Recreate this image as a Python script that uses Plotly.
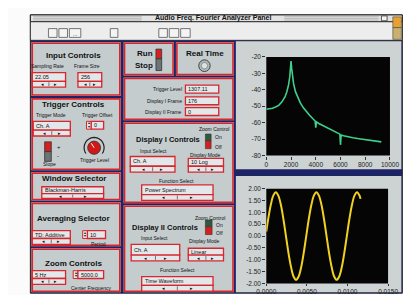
import math
import plotly.graph_objects as go

W, H = 411, 295

# ---------------- data ----------------
spec_freq = [0, 250, 500, 750, 1000, 1250, 1500, 1650, 1800, 1900, 1950, 2000, 2050, 2100,
             2200, 2350, 2500, 2750, 3000, 3250, 3500, 3750, 3950, 4000, 4050, 4250, 4500,
             5000, 5500, 5950, 6000, 6050, 6250, 6500, 7000, 7500, 8000, 8500, 9000, 9300]
spec_db = [-51.8, -51.6, -51.2, -50.5, -49.5, -47.5, -44.5, -41.5, -37.0, -32.0, -28.0, -22.5,
           -27.0, -31.0, -36.0, -41.0, -44.0, -48.0, -51.0, -53.5, -55.5, -57.5, -59.0, -63.0,
           -59.5, -60.5, -61.5, -63.5, -65.5, -67.0, -73.5, -67.5, -68.0, -68.5, -69.2, -69.8,
           -70.3, -70.8, -71.3, -71.7]

wave_t = [0.0, 0.00023, 0.00055, 0.00086, 0.00117, 0.00148, 0.00180, 0.00211, 0.00242,
          0.00273, 0.00305, 0.00336, 0.00367, 0.00398, 0.00430, 0.00461, 0.00492, 0.00523,
          0.00555, 0.00586, 0.00617, 0.00648, 0.00680, 0.00711, 0.00742, 0.00773, 0.00805,
          0.00836, 0.00867, 0.00898, 0.00930, 0.00961, 0.00992, 0.01023, 0.01055, 0.01086,
          0.01117, 0.01148, 0.01160]
wave_v = [0.19, 0.71, 1.31, 1.71, 1.85, 1.71, 1.31, 0.71, 0.00, -0.71, -1.31, -1.71, -1.85,
          -1.71, -1.31, -0.71, 0.00, 0.71, 1.31, 1.71, 1.85, 1.71, 1.31, 0.71, 0.00, -0.71,
          -1.31, -1.71, -1.85, -1.71, -1.31, -0.71, 0.00, 0.71, 1.31, 1.71, 1.85, 1.71, 1.57]

spec_xticks = [0, 2000, 4000, 6000, 8000, 10000]
spec_xlabels = ["0", "2000", "4000", "6000", "8000", "10000"]
spec_yticks = [-20, -30, -40, -50, -60, -70, -80]
spec_ylabels = ["-20", "-30", "-40", "-50", "-60", "-70", "-80"]
wave_xticks = [0.0, 0.005, 0.01, 0.015]
wave_xlabels = ["0.0000", "0.0050", "0.0100", "0.0150"]
wave_yticks = [2.0, 1.5, 1.0, 0.5, 0.0, -0.5, -1.0, -1.5, -2.0]
wave_ylabels = ["2.00", "1.50", "1.00", "0.50", "0.00", "-0.50", "-1.00", "-1.50", "-2.00"]

title_text = "Audio Freq. Fourier Analyzer Panel"

# ---------------- style ----------------
FONT = "Liberation Sans, Arial, sans-serif"
PANEL = "#c4ccce"
CHART_BG = "#cdd3d3"
RED = "#d8262e"
NAVY = "#1c2466"
FIELD = "#e2e8ea"
INK = "#111111"

shapes = []
annos = []


def rect(x0, y0, x1, y1, fill=None, line=None, lw=1.0):
    shapes.append(dict(type="rect", xref="paper", yref="paper", layer="below",
                       x0=x0 / W, x1=x1 / W, y0=1 - y1 / H, y1=1 - y0 / H,
                       fillcolor=fill or "rgba(0,0,0,0)",
                       line=dict(color=line or "rgba(0,0,0,0)", width=lw if line else 0)))


def circ(cx, cy, r, fill, line=None, lw=1.0):
    shapes.append(dict(type="circle", xref="paper", yref="paper", layer="below",
                       x0=(cx - r) / W, x1=(cx + r) / W, y0=1 - (cy + r) / H, y1=1 - (cy - r) / H,
                       fillcolor=fill, line=dict(color=line or "rgba(0,0,0,0)", width=lw if line else 0)))


def hline(x0, x1, y, color, lw=1.0):
    shapes.append(dict(type="line", xref="paper", yref="paper", layer="below",
                       x0=x0 / W, x1=x1 / W, y0=1 - y / H, y1=1 - y / H,
                       line=dict(color=color, width=lw)))


def vline(x, y0, y1, color, lw=1.0):
    shapes.append(dict(type="line", xref="paper", yref="paper", layer="below",
                       x0=x / W, x1=x / W, y0=1 - y0 / H, y1=1 - y1 / H,
                       line=dict(color=color, width=lw)))


def txt(x, y, s, size=5.5, bold=False, anchor="left", color=INK):
    annos.append(dict(xref="paper", yref="paper", x=x / W, y=1 - y / H,
                      text=f"<b>{s}</b>" if bold else s, showarrow=False,
                      xanchor=anchor, yanchor="middle", borderpad=0,
                      font=dict(size=size, color=color, family=FONT)))


def section(x0, y0, x1, y1):
    rect(x0, y0, x1, y1, PANEL)
    rect(x0 + 1, y0 + 1, x1 - 1, y1 - 1, None, RED, 1.6)


def field(x0, y0, x1, y1, text, arrow_h=6, size=5.5):
    rect(x0, y0, x1, y1, FIELD, RED, 1.3)
    txt(x0 + 2, (y0 + y1) / 2, text, size)
    if arrow_h:
        rect(x0, y1, x1, y1 + arrow_h, FIELD, RED, 1.3)
        xm = (x0 + x1) / 2
        vline(xm, y1 + 1, y1 + arrow_h - 1, "#555", 0.8)
        txt(x0 + (x1 - x0) * 0.3, y1 + arrow_h / 2, "◂", 4.5, anchor="center")
        txt(x0 + (x1 - x0) * 0.7, y1 + arrow_h / 2, "▸", 4.5, anchor="center")


def spinner(x0, y0, x1, y1, text):
    rect(x0, y0, x0 + 5, y1, FIELD, RED, 1.0)
    txt(x0 + 2.5, y0 + 2.2, "▴", 3.5, anchor="center")
    txt(x0 + 2.5, y1 - 2.2, "▾", 3.5, anchor="center")
    rect(x0 + 5, y0, x1, y1, FIELD, RED, 1.3)
    txt(x0 + 7, (y0 + y1) / 2, text, 5.5)


# ---------------- window frame ----------------
rect(13, 3, 404, 288, NAVY, "#222", 1)
rect(13, 3, 404, 10, "#e2e2e2", "#222", 1)
for yy in (4.8, 6.5, 8.2):
    hline(16, 130, yy, "#9a9a9a", 0.6)
    hline(280, 379, yy, "#9a9a9a", 0.6)
txt(205, 6.6, title_text, 7, bold=True, anchor="center")
rect(382, 4, 388, 9, "#f2f2f2", "#333", 0.8)
rect(13, 10, 404, 29, "#ededed", "#222", 0.8)
for (a, b) in [(32, 41), (43, 52), (54, 66), (97, 105), (148, 157), (159, 169), (171, 181)]:
    rect(a, 17, b, 26, "#f4f4f4", "#555", 0.8)
txt(60, 23, "...", 5, anchor="center")
rect(394, 5, 403, 16, "#e8a030", "#444", 0.6)
rect(394, 16, 403, 28, "#c9b070", "#444", 0.6)

# ---------------- left column ----------------
section(14, 31, 108, 86)
txt(58, 45, "Input Controls", 8, True, "center")
txt(31, 55, "Sampling Rate", 5, anchor="center")
txt(73, 55, "Frame Size", 5, anchor="center")
field(15, 62, 50, 71, "22.05")
field(63, 62, 88, 71, "256")

section(14, 88, 108, 162)
txt(58, 95, "Trigger Controls", 8, True, "center")
txt(35, 105, "Trigger Mode", 5, anchor="center")
txt(84, 105, "Trigger Offset", 5, anchor="center")
field(16, 112, 55, 121, "Ch. A")
spinner(72, 112, 90, 120, "0")
rect(28, 133, 35, 143, "#d42020", "#333", 0.8)
rect(28, 143, 35, 153, "#6c7474", "#333", 0.8)
txt(40, 138, "+", 6)
txt(40, 148, "-", 6)
txt(33, 156, "Slope", 5, anchor="center")
# knob
cx, cy, rr = 80, 139, 10.5
pts = []
for i in range(0, 25):
    ang = math.radians(215 - i * 250 / 24)
    pts.append(((cx + rr * math.cos(ang)) / W, 1 - (cy - rr * math.sin(ang)) / H))
path = "M " + " L ".join(f"{a:.5f},{b:.5f}" for a, b in pts)
shapes.append(dict(type="path", xref="paper", yref="paper", layer="below", path=path,
                   line=dict(color="#222", width=1.2)))
circ(cx, cy, 6.8, "#d01818", "#333", 0.8)
shapes.append(dict(type="line", xref="paper", yref="paper", layer="below",
                   x0=cx / W, y0=1 - cy / H, x1=(cx - 3) / W, y1=1 - (cy - 4.5) / H,
                   line=dict(color="#ffffff", width=1)))
txt(80, 152, "Trigger Level", 5, anchor="center")

section(14, 164, 108, 193)
txt(59, 171, "Window Selector", 8, True, "center")
field(25, 179, 90, 186, "Blackman-Harris", arrow_h=5)

section(14, 195, 108, 240)
txt(58, 212, "Averaging Selector", 8, True, "center")
field(15, 224, 55, 232, "TD: Additive")
spinner(68, 224, 92, 232, "10")
txt(85, 238, "Period", 5, anchor="center")

section(14, 242, 108, 287)
txt(58, 258, "Zoom Controls", 8, True, "center")
field(15, 265, 50, 273, "5 Hz")
spinner(58, 265, 90, 273, "5000.0")
txt(77, 283, "Center Frequency", 5, anchor="center")

# ---------------- middle column ----------------
section(111, 31, 164, 65)
txt(134, 43, "Run", 8, True, "center")
txt(132, 55, "Stop", 8, True, "center")
rect(145, 38, 151, 48, "#d42020", "#333", 0.8)
rect(145, 48, 151, 60, "#6c7474", "#333", 0.8)

section(166, 31, 227, 65)
txt(197, 43, "Real Time", 8, True, "center")
circ(196, 55, 6, "#b0b8b8", "#444", 1)
circ(196, 55, 3.3, "#dde3e3", "#666", 0.6)

section(111, 67, 227, 111)
for (yy, lab, val) in [(79, "Trigger Level", "1307.11"), (91, "Display I Frame", "176"),
                       (102, "Display II Frame", "0")]:
    txt(173, yy, lab, 5, anchor="right")
    rect(176, yy - 4, 211, yy + 4, FIELD, RED, 1.3)
    txt(178, yy, val, 5.5)

section(111, 113, 227, 196)
txt(206, 120, "Zoom Control", 5, anchor="center")
txt(158, 131, "Display I Controls", 7.5, True, "center")
rect(197, 125, 203, 132, "#2f5a40", "#333", 0.6)
rect(197, 132, 203, 140, "#d42020", "#333", 0.6)
txt(206, 128, "On", 5)
txt(206, 138, "Off", 5)
txt(142, 142, "Input Select", 5, anchor="center")
txt(197, 146, "Display Mode", 5, anchor="center")
field(118, 148, 165, 158, "Ch. A")
field(179, 150, 216, 158, "10 Log")
txt(167, 173, "Function Select", 5, anchor="center")
field(130, 177, 205, 187, "Power Spectrum")

section(111, 198, 227, 287)
txt(202, 211, "Zoom Control", 5, anchor="center")
txt(154, 221, "Display II Controls", 7.5, True, "center")
rect(197, 213, 204, 220, "#2f5a40", "#333", 0.6)
rect(197, 220, 204, 228, "#d42020", "#333", 0.6)
txt(207, 218, "On", 5)
txt(207, 226, "Off", 5)
txt(144, 231, "Input Select", 5, anchor="center")
txt(196, 235, "Display Mode", 5, anchor="center")
field(119, 238, 170, 249, "Ch. A")
field(179, 242, 216, 249, "Linear")
txt(168, 264, "Function Select", 5, anchor="center")
field(130, 271, 205, 280, "Time Waveform")

# ---------------- right column (chart panels) ----------------
rect(229, 30, 403, 161, CHART_BG)
rect(229, 168, 403, 287, CHART_BG)
shapes.append(dict(type="rect", xref="x domain", yref="y domain", layer="below",
                   x0=0, x1=1, y0=0, y1=1, fillcolor="#050505", line=dict(width=0)))
shapes.append(dict(type="rect", xref="x2 domain", yref="y2 domain", layer="below",
                   x0=0, x1=1, y0=0, y1=1, fillcolor="#050505", line=dict(width=0)))

fig = go.Figure()
fig.add_trace(go.Scatter(x=spec_freq, y=spec_db, mode="lines", xaxis="x", yaxis="y",
                         line=dict(color="#3fd08c", width=1.6), hoverinfo="skip"))
fig.add_trace(go.Scatter(x=wave_t, y=wave_v, mode="lines", xaxis="x2", yaxis="y2",
                         line=dict(color="#f0d020", width=2, shape="spline"), hoverinfo="skip"))

axis_common = dict(showgrid=False, zeroline=False, showline=False, ticks="outside",
                   ticklen=3, tickwidth=1, tickcolor="#333",
                   tickfont=dict(size=6.5, color="#222", family=FONT), fixedrange=True)

fig.update_layout(
    width=W, height=H, autosize=False,
    margin=dict(l=0, r=0, t=0, b=0),
    paper_bgcolor="#fbfbfb", plot_bgcolor="rgba(0,0,0,0)",
    showlegend=False,
    xaxis=dict(domain=[261 / W, 391 / W], range=[0, 10000], tickvals=spec_xticks,
               ticktext=spec_xlabels, anchor="y", **axis_common),
    yaxis=dict(domain=[1 - 147 / H, 1 - 46 / H], range=[-80, -20], tickvals=spec_yticks,
               ticktext=spec_ylabels, anchor="x", **axis_common),
    xaxis2=dict(domain=[261 / W, 389 / W], range=[0, 0.015], tickvals=wave_xticks,
                ticktext=wave_xlabels, anchor="y2", **axis_common),
    yaxis2=dict(domain=[1 - 278 / H, 1 - 181 / H], range=[-2, 2], tickvals=wave_yticks,
                ticktext=wave_ylabels, anchor="x2", **axis_common),
    shapes=shapes,
    annotations=annos,
)
fig.update_xaxes(ticklen=2, selector=dict(anchor="y2"))

fig.write_html("out.html", config={"displayModeBar": False})
